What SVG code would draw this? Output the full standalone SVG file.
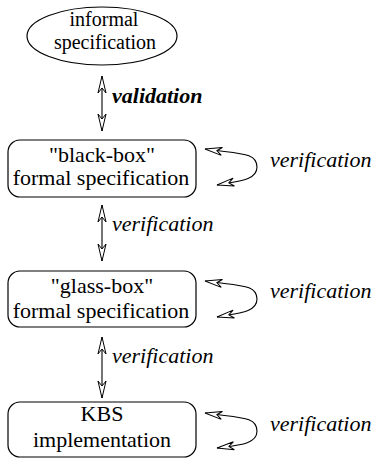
<svg xmlns="http://www.w3.org/2000/svg" width="378" height="459" viewBox="0 0 378 459">
<style>
.shape{fill:#fff;stroke:#000;stroke-width:1.2}
.lbl{font-size:22px;fill:#000;text-anchor:middle}
.sm{font-size:20px}
.it{font-size:22px;font-style:italic;fill:#000}
.bi{font-weight:bold}
.conn{fill:none;stroke:#000;stroke-width:1.1}
</style>
<defs>
<marker id="ah" markerUnits="userSpaceOnUse" markerWidth="24" markerHeight="14" viewBox="-20 -7 24 14" refX="0" refY="0" orient="auto-start-reverse" overflow="visible">
<path d="M0,0 L-17,-4 L-12,0 L-17,4 Z" fill="#fff" stroke="#000" stroke-width="1"/>
</marker>
</defs>
<g font-family="'Liberation Serif', 'Times New Roman', serif">
<g id="connectors">
<path class="conn" d="M102,76 L102,131" marker-start="url(#ah)" marker-end="url(#ah)"/>
<path class="conn" d="M102,205 L102,261" marker-start="url(#ah)" marker-end="url(#ah)"/>
<path class="conn" d="M102,337 L102,398" marker-start="url(#ah)" marker-end="url(#ah)"/>
<path class="conn" d="M205,149 C240,154 257,152 257,167 C257,180 240,181 217,185" marker-start="url(#ah)" marker-end="url(#ah)"/>
<path class="conn" d="M205,281 C240,286 257,284 257,299 C257,312 240,313 217,317" marker-start="url(#ah)" marker-end="url(#ah)"/>
<path class="conn" d="M205,413 C240,418 257,416 257,431 C257,444 240,445 217,448" marker-start="url(#ah)" marker-end="url(#ah)"/>
<text class="it bi" x="112" y="103">validation</text>
<text class="it" x="112" y="231">verification</text>
<text class="it" x="112" y="363">verification</text>
<text class="it" x="270" y="167">verification</text>
<text class="it" x="270" y="298">verification</text>
<text class="it" x="270" y="431">verification</text>
</g>
<g id="informal">
<ellipse class="shape" cx="102" cy="36" rx="75" ry="29"/>
<text class="lbl sm" x="104" y="26">informal</text>
<text class="lbl sm" x="105" y="49">specification</text>
</g>
<g id="blackbox">
<rect class="shape" x="8" y="140" width="188" height="57" rx="12"/>
<text class="lbl" x="102" y="162">"black-box"</text>
<text class="lbl" x="101" y="185">formal specification</text>
</g>
<g id="glassbox">
<rect class="shape" x="8" y="271" width="188" height="56" rx="12"/>
<text class="lbl" x="102" y="293">"glass-box"</text>
<text class="lbl" x="101" y="318">formal specification</text>
</g>
<g id="kbs">
<rect class="shape" x="8" y="402" width="188" height="55" rx="12"/>
<text class="lbl" x="102" y="421">KBS</text>
<text class="lbl" x="102" y="447">implementation</text>
</g>
</g>
</svg>
